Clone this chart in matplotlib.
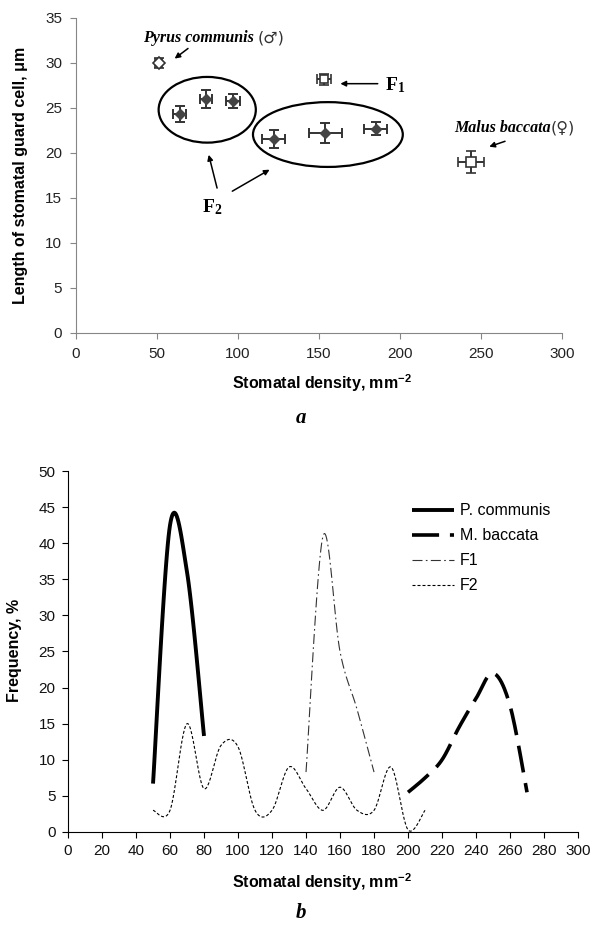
import numpy as np
import matplotlib
matplotlib.use("Agg")
import matplotlib.pyplot as plt
from matplotlib.patches import Ellipse

plt.rcParams['font.family'] = ['Liberation Sans', 'DejaVu Sans']
plt.rcParams['mathtext.fontset'] = 'custom'
plt.rcParams['mathtext.rm'] = 'Liberation Serif:bold'
plt.rcParams['mathtext.bf'] = 'Liberation Serif:bold'
plt.rcParams['mathtext.sf'] = 'Liberation Sans:bold'

# ---- panel a: density vs guard cell length (mean +- error) ----
pyrus_x, pyrus_y, pyrus_xe, pyrus_ye = [51], [30.0], [2], [0.6]
f1_x, f1_y, f1_xe, f1_ye = [153], [28.2], [4.5], [0.6]
malus_x, malus_y, malus_xe, malus_ye = [244], [19.0], [8], [1.2]
f2_x = [64, 80, 97, 122, 154, 185]
f2_y = [24.3, 26.0, 25.8, 21.6, 22.2, 22.7]
f2_xe = [4, 3.7, 4.3, 7, 10, 7]
f2_ye = [0.9, 1.0, 0.8, 1.0, 1.1, 0.7]

# ---- panel b: frequency distributions ----
pc_x = [50, 60, 70, 80]
pc_y = [6.7, 42.5, 36, 13.3]
mb_x = [200, 210, 220, 230, 240, 250, 260, 270]
mb_y = [5.5, 7.5, 10, 14.5, 18.5, 22, 17.5, 5.5]
f1b_x = [140, 150, 160, 170, 180]
f1b_y = [8.3, 41, 25, 17, 8.3]
f2b_x = [50, 60, 70, 80, 90, 100, 110, 120, 130, 140, 150, 160, 170, 180, 190, 200, 210]
f2b_y = [3, 3, 15, 6, 12, 11.8, 3, 3, 9, 6, 3, 6.2, 3, 3, 9, 0.3, 3]


def smooth(xs, ys, n=24):
    ''' Excel-like smoothed line: cubic bezier through the points '''
    pts = np.column_stack([xs, ys]).astype(float)
    p = np.vstack([pts[0], pts, pts[-1]])
    out = []
    t = np.linspace(0, 1, n, endpoint=False)[:, None]
    for i in range(1, len(p) - 2):
        p0, p1, p2, p3 = p[i - 1], p[i], p[i + 1], p[i + 2]
        c1 = p1 + (p2 - p0) / 6
        c2 = p2 - (p3 - p1) / 6
        seg = (1 - t)**3 * p1 + 3 * (1 - t)**2 * t * c1 + 3 * (1 - t) * t**2 * c2 + t**3 * p2
        out.append(seg)
    out.append(pts[-1:])
    s = np.vstack(out)
    return s[:, 0], s[:, 1]


def species_label(ax, x, y, name, sign):
    ''' italic bold name followed by a plain sex sign '''
    ax.text(x, y, name, ha='right', va='center', fontsize=11.5, style='italic',
            weight='bold', family='Liberation Serif')
    ax.text(x, y, sign, ha='left', va='center', fontsize=11.5,
            family='DejaVu Sans', color='#333333')


fig = plt.figure(figsize=(5.94, 9.27), dpi=100)

# ---------------- panel a ----------------
ax1 = fig.add_axes([0.128, 0.6408, 0.818, 0.3398])
ebkw = dict(ecolor='#333333', elinewidth=1.4, capsize=3.5, capthick=1.4, linestyle='none')
ax1.errorbar(pyrus_x, pyrus_y, xerr=pyrus_xe, yerr=pyrus_ye, marker='D', ms=6,
             mfc='white', mec='#333333', mew=1.2, **ebkw)
ax1.errorbar(f1_x, f1_y, xerr=f1_xe, yerr=f1_ye, marker='s', ms=6,
             mfc='white', mec='#333333', mew=1.2, **ebkw)
ax1.errorbar(malus_x, malus_y, xerr=malus_xe, yerr=malus_ye, marker='s', ms=7,
             mfc='white', mec='#333333', mew=1.2, **ebkw)
ax1.errorbar(f2_x, f2_y, xerr=f2_xe, yerr=f2_ye, marker='D', ms=5,
             mfc='#444444', mec='#444444', **ebkw)

ax1.add_patch(Ellipse((81, 24.8), 60, 7.3, fill=False, lw=1.6, ec='black'))
ax1.add_patch(Ellipse((155.5, 22.05), 92.5, 7.2, fill=False, lw=1.6, ec='black'))

arr = dict(arrowstyle='-|>', color='black', lw=1.1, mutation_scale=8)
ax1.annotate('', xy=(59.5, 30.3), xytext=(70.5, 31.8), arrowprops=arr)
species_label(ax1, 112, 32.8, 'Pyrus communis ', '(\u2642)')
ax1.annotate('', xy=(161.5, 27.7), xytext=(188, 27.7), arrowprops=arr)
ax1.text(191, 27.5, r'$\mathbf{F_1}$', ha='left', va='center', fontsize=14)
ax1.annotate('', xy=(253.5, 20.6), xytext=(266.5, 21.4), arrowprops=arr)
species_label(ax1, 293, 22.8, 'Malus baccata', '(\u2640)')
ax1.annotate('', xy=(81.5, 20.1), xytext=(87.5, 15.8), arrowprops=arr)
ax1.annotate('', xy=(121, 18.3), xytext=(95, 15.6), arrowprops=arr)
ax1.text(84, 14.0, r'$\mathbf{F_2}$', ha='center', va='center', fontsize=14)

ax1.set_xlim(0, 300)
ax1.set_ylim(0, 35)
ax1.set_xticks(range(0, 301, 50))
ax1.set_yticks(range(0, 36, 5))
for s in ['top', 'right']:
    ax1.spines[s].set_visible(False)
for s in ['left', 'bottom']:
    ax1.spines[s].set_color('#868686')
ax1.tick_params(direction='out', length=4, color='#868686', labelsize=11,
                labelcolor='#222222', pad=6)

fig.text(0.034, 0.811, 'Length of stomatal guard cell, \u03bcm', rotation=90,
         ha='center', va='center', fontsize=11.5, weight='bold')
fig.text(0.542, 0.587, r'Stomatal density, mm$^{\mathsf{-2}}$', ha='center',
         va='center', fontsize=11.5, weight='bold')
fig.text(0.507, 0.549, 'a', ha='center', va='center', fontsize=15,
         style='italic', weight='bold', family='Liberation Serif')

# ---------------- panel b ----------------
ax2 = fig.add_axes([0.1145, 0.1025, 0.8586, 0.3894])
x, y = smooth(pc_x, pc_y)
ax2.plot(x, y, color='black', lw=2.8, label='P. communis', solid_capstyle='butt')
x, y = smooth(mb_x, mb_y)
ax2.plot(x, y, color='black', lw=2.6, dashes=(7.5, 3), label='M. baccata')
x, y = smooth(f1b_x, f1b_y)
ax2.plot(x, y, color='#333333', lw=0.8, dashes=(9, 3, 1.5, 3), label='F1')
x, y = smooth(f2b_x, f2b_y)
ax2.plot(x, y, color='black', lw=0.8, dashes=(2.7, 1.8), label='F2')

ax2.set_xlim(0, 300)
ax2.set_ylim(0, 50)
ax2.set_xticks(range(0, 301, 20))
ax2.set_yticks(range(0, 51, 5))
for s in ['top', 'right']:
    ax2.spines[s].set_visible(False)
ax2.tick_params(direction='out', length=4, labelsize=11, labelcolor='#111111', pad=5)

ax2.legend(loc='upper left', bbox_to_anchor=(0.675, 0.91), frameon=False,
           fontsize=11.5, handlelength=2.6, handletextpad=0.4, labelspacing=0.62,
           borderpad=0, borderaxespad=0)

fig.text(0.025, 0.298, 'Frequency, %', rotation=90, ha='center', va='center',
         fontsize=11.5, weight='bold')
fig.text(0.542, 0.0485, r'Stomatal density, mm$^{\mathsf{-2}}$', ha='center',
         va='center', fontsize=11.5, weight='bold')
fig.text(0.507, 0.015, 'b', ha='center', va='center', fontsize=15,
         style='italic', weight='bold', family='Liberation Serif')

fig.savefig('out.png', dpi=100)
